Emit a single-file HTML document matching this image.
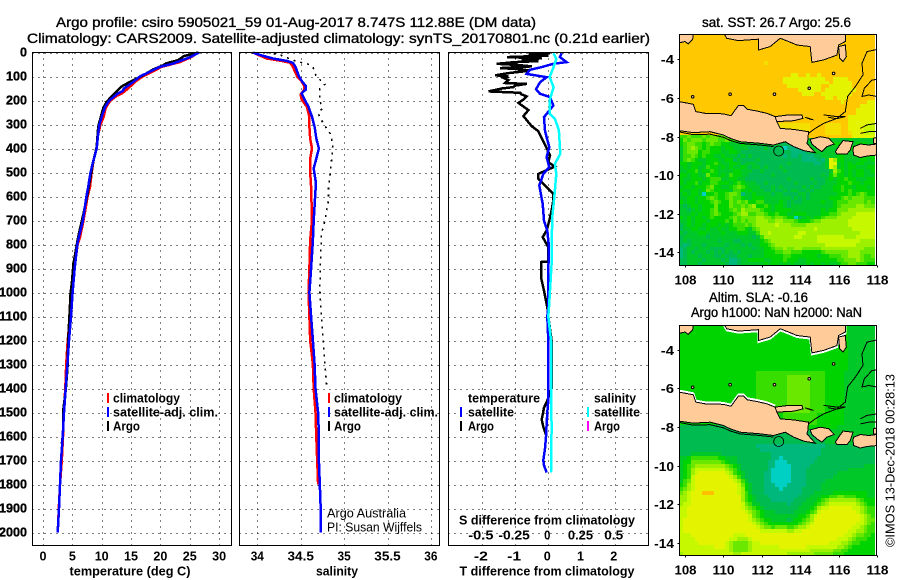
<!DOCTYPE html>
<html lang="en">
<head>
<meta charset="utf-8">
<title>Argo profile csiro 5905021_59</title>
<style>
html,body{margin:0;padding:0;background:#fff;}
svg{display:block;font-family:"Liberation Sans",sans-serif;}
</style>
</head>
<body>
<svg id="fig" xmlns="http://www.w3.org/2000/svg" width="900" height="580" viewBox="0 0 900 580">
  <defs>
    <clipPath id="clip-sst"><rect x="679.5" y="34.5" width="197" height="231"/></clipPath>
    <clipPath id="clip-sla"><rect x="679.5" y="325.5" width="197" height="230"/></clipPath>
  </defs>
  <rect width="900" height="580" fill="#fff"/>
  <g id="layer-sst" clip-path="url(#clip-sst)"></g>
  <g id="layer-sla" clip-path="url(#clip-sla)"></g>
  <g id="layer-main"></g>
</svg>
<script>
/* ---------- tick data ---------- */
const depthTicks = [0,100,200,300,400,500,600,700,800,900,1000,1100,1200,1300,1400,1500,1600,1700,1800,1900,2000];
const tempTicks = [0,5,10,15,20,25,30];
const salTicks = [34,34.5,35,35.5,36];
const salTickLabels = ['34','34.5','35','35.5','36'];
const diffTicks = [-2,-1,0,1,2];
const sDiffTickLabels = ['-0.5','-0.25','0','0.25','0.5'];
const lonTicks = [108,110,112,114,116,118];
const latTicks = [-4,-6,-8,-10,-12,-14];

/* ---------- temperature profiles [depth, value] ---------- */
const tempClim = [[0,26.5],[20,25.2],[40,23.3],[60,20.2],[80,18.6],[100,17],[120,15.8],[150,14.5],[170,13.5],[180,12.6],[200,11.5],[230,10.7],[270,10.3],[300,9.8],[340,9.4],[400,9.1],[450,8.6],[500,8.3],[560,8],[600,7.6],[700,6.9],[770,6.3],[800,5.9],[900,5.35],[1000,5],[1100,4.6],[1200,4.2],[1300,3.95],[1400,3.8],[1500,3.55],[1600,3.4],[1700,3.2],[1800,2.9],[1900,2.7],[2000,2.5]];
const tempSat = [[0,26.6],[20,25],[46,22.2],[60,19.9],[80,18.2],[100,16.5],[122,15.4],[150,13.8],[160,13.6],[170,12.8],[200,11.3],[226,10.6],[268,10],[300,9.6],[338,9.4],[400,9.15],[449,8.6],[500,8.1],[560,7.7],[600,7.4],[700,6.8],[770,6.1],[800,5.85],[900,5.4],[1000,5.05],[1100,4.77],[1200,4.43],[1300,4.15],[1400,3.86],[1500,3.58],[1600,3.35],[1700,3.07],[1800,2.9],[1900,2.73],[2000,2.5]];
const tempArgo = [[0,26.4],[15,24],[22,23.6],[32,23],[45,21],[53,20.5],[70,18.8],[94,17.1],[115,15.4],[140,13.5],[160,12.6],[185,11.6],[206,10.85],[230,10.3],[254,10],[310,9.4],[393,9.15],[462,8.5],[587,7.6],[671,6.9],[768,6],[879,5.2],[962,4.9],[1000,4.7],[1100,4.5],[1200,4.3],[1300,4.2],[1400,3.9],[1500,3.4],[1550,3.5],[1600,3.35],[1630,3.2]];

/* ---------- salinity profiles [depth, value] ---------- */
const salClim = [[0,33.95],[10,34.01],[25,34.11],[35,34.28],[43,34.38],[60,34.41],[100,34.46],[120,34.51],[140,34.54],[154,34.54],[175,34.5],[195,34.51],[226,34.57],[268,34.6],[310,34.6],[360,34.61],[400,34.63],[442,34.61],[500,34.61],[560,34.62],[700,34.63],[780,34.61],[900,34.6],[1000,34.59],[1100,34.6],[1200,34.61],[1300,34.64],[1400,34.65],[1500,34.67],[1600,34.68],[1700,34.69],[1800,34.7]];
const salSat = [[0,33.95],[10,34.03],[25,34.18],[35,34.34],[43,34.41],[60,34.44],[100,34.48],[122,34.52],[140,34.56],[154,34.56],[170,34.51],[200,34.55],[226,34.59],[268,34.63],[310,34.66],[358,34.68],[400,34.71],[442,34.68],[483,34.65],[532,34.67],[574,34.67],[700,34.65],[782,34.64],[900,34.62],[1000,34.6],[1100,34.62],[1200,34.64],[1300,34.66],[1400,34.67],[1500,34.7],[1600,34.71],[1700,34.71],[1800,34.72],[1900,34.73],[2000,34.73]];
const salArgo = [[0,34.11],[10,34.26],[39,34.47],[46,34.57],[60,34.64],[100,34.68],[132,34.78],[150,34.72],[200,34.72],[233,34.75],[254,34.7],[296,34.76],[338,34.84],[379,34.87],[435,34.86],[504,34.84],[560,34.82],[615,34.82],[700,34.78],[754,34.74],[838,34.73],[988,34.72],[1100,34.74],[1200,34.76],[1300,34.78],[1390,34.8]];

/* ---------- difference profiles [depth, value] ---------- */
const diffTempArgo = [[2,0.05],[8,-0.6],[13,0],[19,-1.25],[24,-0.2],[30,-0.8],[36,-0.3],[40,-1],[47,-1.55],[52,-0.9],[58,-0.5],[65,-1.45],[70,-0.8],[76,-0.55],[85,-1.15],[95,-1.6],[100,-1.2],[106,-1.35],[115,-1.2],[127,-1.3],[131,-0.65],[138,-1],[144,-1.05],[150,-1.4],[162,-1.8],[168,-0.85],[175,-0.8],[183,-0.65],[196,-0.75],[210,-0.9],[240,-0.6],[265,-0.75],[307,-0.5],[328,-0.3],[384,-0.1],[428,0.05],[457,0],[475,0.2],[506,-0.3],[526,-0.3],[547,-0.15],[589,0.15],[617,0.15],[658,0.1],[700,0.03],[742,-0.05],[769,-0.17],[811,0],[871,0],[873,-0.22],[936,-0.22],[992,-0.13],[1061,-0.03],[1100,0],[1200,0.1],[1400,0.1],[1450,-0.03],[1480,-0.13],[1530,-0.2],[1560,-0.15],[1600,-0.05]];
const diffTempSat = [[3,0.4],[19,0.35],[40,0.55],[47,0.15],[61,-0.2],[72,-0.55],[89,-0.65],[103,-0.05],[124,-0.25],[153,-0.37],[172,-0.25],[186,0.05],[221,0.15],[256,-0.05],[269,-0.13],[325,-0.1],[353,-0.05],[394,0.03],[436,-0.05],[478,0.03],[506,-0.15],[554,-0.27],[631,-0.17],[700,-0.13],[742,-0.03],[811,0.02],[908,0],[1061,0],[1100,-0.03],[1200,0],[1400,0],[1450,0],[1500,-0.03],[1550,-0.05],[1600,-0.07],[1650,-0.1],[1700,-0.15],[1720,-0.13],[1750,-0.05]];
const diffSalSat = [[3,0.04],[27,0.06],[61,0.04],[103,0.01],[144,0.04],[200,0.01],[256,0.01],[276,0.05],[325,0.08],[422,0.09],[464,0.05],[506,0.06],[603,0.045],[686,0.03],[811,0.025],[880,0.025],[1061,0.005],[1100,0],[1200,0.02],[1400,0.02],[1560,0.025],[1750,0.02]];

/* ---------- map heat grids: one letter per 0.2 degree cell ---------- */
const cellColors = {a:'#00d0c4',b:'#00b87c',c:'#00bc50',d:'#00c828',e:'#00d400',f:'#38de00',g:'#6ae800',h:'#9cf000',i:'#c6f800',j:'#e4f400',k:'#ffc000',l:'#f4e000',m:'#ffc800'};
const sstRows = [
"mmmmmmmmmm mmmmmmmmmm mmmmmmmmmm mmmmmmmmmm mmmmmmmmmm m",
"mmmmmmmmmm mmmmmmmmmm mmmmmmmmmm mmmmmmmmmm mmmmmmmmmm m",
"mmmmmmmmmm mmmmmmmmmm mmmmmmmmmm mmmmmmmmmm mmmmmmmmmm m",
"mmmmmmmmmm mmmmmmmmmm mmmmmmmmmm mmmmmmmmmm mmmmmmmmmm m",
"mmmmmmmmmm mmmmmmmmmm mmmmmmmmmm mmmmmmmmmm mmmmmmmmmm m",
"mmmmmmmmmm mmmmmmmmmm mmmmmmmmmm mmmmmmmmmm mmmmmmmmmm m",
"mmmmmmmmmm mmmmmmmmmm mmmmmmmmmm mmmmmmmmmm mmmmmmmmmm m",
"mmmmmmmmmm mmmmmmmmmm mmlmmmmmmm mmmmmmmmmm mmmmmmmmmm m",
"mmmmmmmmmm mmmmmmmmmm mmmmmmmmmm mmmmmmmmmm mmmmmmmmmm m",
"mmmmmmmmmm mmmmmmmmmm mmmmmmmmmm mmmmmmmmmm mmmmmmmmmm m",
"mmmmmmmmmm mmmmmmmmmm mmmmmmmmmj jmmjmmjmmm mmmmmmmmmm m",
"mmmmmmmmmm mmmmmmmmmm mmmmmmmjjj jjjjjjjjmm jjjjmmmmmm m",
"mmmmmmmmmm mmmmmmmmmm mmmmmmmjjj jjjjjjjjjm jjjjjmmmmm m",
"mmmmmmmmmm mmmmmmmmmm mmmmmmmmjj jjjjjjjmmj jjjjjmmmmm m",
"mmmmmmmmmm mmmmmmmmmm mmmmmmmmmm mjjjjjjmjj jjjjjjmmmm m",
"mmmmmmmmmm mmmmmmmmmm mmmmmmmmmm mmjjjmmjjj jjjjjmmmmm m",
"mmmmmmmmmm mmmmmmmmmm mmmmmmmmmm mmmmmmmmjj mjjjmmmmmm m",
"mmmmmmmmmm mmmmmmmmmm mmmmmmmmmm mmmmmmmmmm mmjmmmmmmj j",
"mmmmmmmmmm mmmmmmmmmm mmmmmmmmmm mmmmmmmmmm mmmmmmmjjj j",
"mmmmmmmmmm mmmmmmmmmm mmmmmmmmmm mmmmmmmmmm mmmmmmjjjj j",
"mmmmmmmmmm mmmmmmmmmm mmmmmmmmmm mmmmmmmmmm mmmmmmjjjj j",
"mmmmmmmmmm mmmmmmmmmm mmmmmmmmmm mmmmmmmmmm mmmmjjjjjj j",
"mmmmmmmmmm mmmmmmmmmm mmmmmmmmmm mmmmmmmmmm mmmmjjjjjj j",
"mmmmmmmmmm mmmmmmmmmm mmmmmmllll llllmmmmll llmmjjjjji i",
"mmmmmmmmmm mmmmmmmmmm mmmmmmllll llllmmmmll llmmjjjjii i",
"mmmmmmmmmm mmmmmmmmmm mmmmmmmmmm mmmmmmmmll llmmljjjii i",
"ffgfffgfgg fgffeeefff mmmmmmmmmm mmmmmmmmmm mmmmmjjjjj j",
"egfgggfggg ffgffeeddd ddddddddcc cdcdddeeed ddddeddddd d",
"efggffefgf feedddeddd ddddddcccc bbcdddeedd eeedddeeed d",
"dfghgfefee edeeddddcc ccdccccabb bbccdddddd dddeeeddde e",
"dfgggeffee eddeedcccc cccccccccb bbbccddddd deeeddddee d",
"dffgfefeed dedddcdcdc cccccccbcb bcbbbccddd deedddedde e",
"dfgfeddeee ddeecdcccc dccccccccc ccbbbbcbdj heeddddeed e",
"eedeeedeef eddeedcddd ccccccccdc cccccbbcdj jdededeedd d",
"dedeeddfee dededdedcd dcdcccdccc ccccccccdj hdedeeddde e",
"ddeefdeefe ddddeedddc cdcccccdcc cccccccccd hfededeedd e",
"eedeeddgee dedfeeddcc ccccdccccc cccccccdce geededeedd d",
"eddeeedeff fddeeddccc ccccccccdc ccccdcccde deefeeddde e",
"edeefdeeff eeedefeddd ccdccccccc dccccdccdd deeefeedee e",
"deedeeefge eddefgfedd dcccdcdccc ccdcdccddd eefeedeeed e",
"eddeedegfe eeedffeded ddccdccdcd dccdcddddd eefefeeeee e",
"dedeedaeef eefggfbdde ddddcddccc cddcdddddd deeefefgfe e",
"ddeedeefgf eefgffedde eedddddddc dcdcddddde eefgfgggff f",
"edeedeeefg feegfgfgee ffddddedcd ccdddddedd efffggggfg f",
"dcdeedeeeg eeegffgfgh eefedeedcd dddddddddd efgggghhgg g",
"ddcdedeefg eeefgfhggg gfeedeeeed dddddddede eggghhhhhh h",
"dddedeeefg feeefghhff ggfeefeedd eeeddddeef fghhhhiiii i",
"ededeedefe eeefgfgggg hhggfggfee acdedeefgg ghhhhiiiii i",
"ddedeeedee eefegfgfgg hhhgghhggg feeefgghhh hhhhiiiiii i",
"cdedeedeee dedefffgfg hhhhhihhhg ggghhhhhhh hhhhiiiiii i",
"cddeeddedd eddeeffedf ghhhhhhhhh hhhhhihhhh hhhhhiiiii i",
"dcdddeeddd dedddeeedd fhhihhhhhh hiihhhhhhh hhhhhhhiii i",
"cddddddcdd dddddddddc dfhhhhhhhh iihhhhiiii iiihhhiiii i",
"cdcddddddd cdddccdddd defghhhhhh hhhhhhiiii iiiiiiihhh h",
"cbcdddcddd ddcdddcdcd deefghhhhh hhhhhhhhii iiiiiihhhh h",
"bcddcdddcc ccdddddddc ddeefgghgg hhggggghhh hhhhhhhhgg g",
"bcdcdddcdc dcdcdcdddd ddeeeffggf ffeeeeefgg gggghhhggg g",
"bcdddcdddc cdcccdddcd ddeeeeeffe eeeeeedeef ffgghhhgff g",
"ccddddcddd dcdbbcddee eeddeeefee eddeeeeeee effggghgff f",
"ccdddcdddd ddcbbcdddd ddedeedede dddedeeded deffggfffe e"
];
const slaRows = [
"eeeeeeeeee eeeeeeeeee eeeeeeeeee eeeeeeeeee eeeedddddd d",
"eeeeeeeeee eeeeeeeeee eeeeeeeeee eeeeeeeeee eeeedddddd d",
"eeeeeeeeee eeeeeeeeee eeeeeeeeee eeeeeeeeee eeeedddddd d",
"eeeeeeeeee eeeeeeeeee eeeeeeeeee eeeeeeeeee eeeedddddd d",
"eeeeeeeeee eeeeeeeeee eeeeeeeeee eeeeeeeeee eeeedddddd d",
"eeeeeeeeee eeeeeeeeee eeeeeeeeee eeeeeeeeee eeeedddddd d",
"eeeeeeeeee eeeeeeeeee eeeeeeeeee eeeeeeeeee eeeedddddd d",
"eeeeeeeeee eeeeeeeeee eeeeeeeeee eeeeeeeeee eeeedddddd d",
"eeeeeeeeee eeeeeeeeee eeeeeeeeee eeeeeeeeee eeeedddddd d",
"eeeeeeeeee eeeeeeeeee eeeeeeeeee eeeeeeeeee eeeedddddd d",
"eeeeeeeeee eeeeeeeeee eeeeeeeeee eeeeeeeeee eeeedddddd d",
"eeeeeeeeee eeeeeeeeee eeeeeeeeee eeeeeeeeee eeeedddddd d",
"eeeeeeeeee eeeeeeeeee ffffffffff ffffffffee eeeddddddd d",
"eeeeeeeeee eeeeeeeeee ffffffffgg ggggffffee eeeddddddd d",
"eeeeeeeeee eeeeeeeeee ffffffffgg ggggffffee eeeddddddd d",
"eeeeeeeeee eeeeeeeeee ffffffffgg ggggffffee eeeddddddd d",
"eeeeeeeeee eeeeeeeeee ffffffffgg ggggffffee eeeddddddd d",
"eeeeeeeeee eeeeeeeeee ffffffffgg ggggffffee eeeddddddd d",
"eeeeeeeeee eeeeeeeeee ffffffffgg ggggffffee eeeddddddd d",
"eeeeeeeeee eeeeeeeeee ffffffffgg ggggffffee eeeddddddd d",
"eeeeeeeeee eeeeeeeeee ffffffffgg ggggffffee eeeddddddd d",
"eeeeeeeeee eeeeeeeeee ffffffffgg ggggffffee eeeddddddd d",
"eeeeeeeeee eeeeeeeeee ffffffffgg ggggffffee eeeddddddd d",
"eeeeeeeeee eeeeeeeeee eeeeeeefff ffffffeeee eeeddddddd d",
"eeeeeeeeee eeeeeeeeee eeeeeeefff ffffffeeee eeeddddddd d",
"eeeeeeeeee eeeeeeeeee eeeeeeefff ffffffeeee eeeddddddd d",
"cccccccccc cccccccccc ceeeeeeeee eeeeeeeeee eddddddddd d",
"cccccccccc cccccccccc cccccccccc ccccccccdd dddddddddd d",
"cccccccccc cccccccccc cccccccccc ccccccccdd dddddddddd d",
"cccccccccc cccccccccc cccccccccc ccccccccdd dddddddddd d",
"cccccccccc cccccccccc cccccccccc ccccccccdd dddddddddd d",
"cccccccccc cccccccccc bbbbbbbbbb bbbbbbbbcc cccccccccc c",
"cccccccccc cccccccccc cbbbbbbbbb bbbbbbbccc cccccccccc c",
"cccddddddd dccccccccc ccccbbbbbb bbbbbbbccc cccccccccc c",
"ddefffffff eedddccccc ccccbbabbb bbbbbbcccc cccccccccc c",
"deeggggggg gfeddccccc cccbbaaabb bbbbbccccc cccccccccc c",
"defghhhhhh hhgfedcccc cccbbaaaab bbbbcccccc ccccccccdd d",
"defhiiiiii iihgfdcccc cccbaaaaab bbbccccccc ccccdddddd d",
"defhijjjjj jjihfedccc ccbbaaaaab bbbccccccc cddddddddd d",
"defijjjjjj jjjihfdccc ccbbaaaaab bbbccccccc dddddddddd d",
"dfgijjjjjj jjjjihfdcc ccbbaaaaab bbbcccccdd dddddddddd d",
"efhijjjjjj jjjjjigedc ccbbbaaabb bbbccccddd dddddddddd d",
"fghijjjjjj jjjjjihedc ccbbbbabbb bbcccccddd dddddddddd d",
"ghijjjkkkj jjjjjihfdc ccbbbbbbbb bbcccddddd eeeeeeeeed d",
"hhijjjjjjj jjjjjjhfed cccbbbbbbb bcccdddeef fggfffeeed d",
"hhijjjjjjj jjjjjjhfed ccccbbbbbb cccdddefgh hhhhhhgfee e",
"hiijjjjjjj jjjjjjigfd dcccccccbc ccdddefghi iiiiiihgfe e",
"iijjjjjjjj jjjjjjihgf edcccccccc cdddefhiij jjjjjiihgf f",
"iijjjjjjjj jjjjjjjihg fedddccccc dddefgijjj jjjjjjihgf f",
"iijjjjjjjj jjjjjjjjig fedddddddd deefhijjjj jjjjjjjihg f",
"ijjjjjjjjj jjjjjjjjih gfeeddddcd eefghjjjjj jjjjjjjihg g",
"ijjjjjjjjj jjjjjjjjji hgfeeeeeee efghijjjjj jjjjjjiihg f",
"ijjjjjjjjj jjjjjjjjjj ihggfgggff ghhijjjjjj jjjjjiihgf f",
"ijjjjjjjjj jjjjjjjjjj jiiiiiiihh iijjjjjjjj jjjjiihhgf f",
"iiijjjjjjj jjjjiiijjj jjjjjjjjjj jjjjjjjjjj jjjiihggff e",
"iiiijjjjjj jjjiihhhij jjjjjjjjjj jjjjjjjjjj jiiihgfffe e",
"iiiiijjjjj jjihgggghi ijjjjjjjjj jjjjjjjjji iihhgffeee e",
"iiiiiiiiij jjihgggghi iiiiiijjjj jjjiiiiiii ihhgfeeeee e",
"iiiiiiiiii iiihgggghi iiiiiiiiii iiiihhhhhh ggffeeeeee e",
"hiiiiiiiii iiiihhiiii iiiiiiiihh hhhhhggggg fffeeeeeee e"
];

/* ---------- geography, [lon, lat] ---------- */
const landJava = [[107.7,-6.19],[108.43,-6.33],[108.56,-6.71],[109.04,-6.8],[109.48,-6.8],[110,-6.83],[110.4,-6.92],[110.61,-6.63],[110.78,-6.4],[111.04,-6.4],[111.25,-6.59],[111.74,-6.68],[112.26,-6.8],[112.7,-6.97],[112.78,-7.23],[112.96,-7.58],[113.65,-7.63],[114.43,-7.75],[114.4,-8.18],[114.35,-8.35],[114.78,-8.84],[114.17,-8.73],[113.65,-8.52],[113.22,-8.27],[112.61,-8.44],[111.91,-8.35],[110.87,-8.27],[110.35,-8.09],[110,-7.92],[109.3,-7.75],[108.43,-7.8],[107.7,-7.7]];
const javaNorthShore = [[107.7,-6.19],[108.43,-6.33],[108.56,-6.71],[109.04,-6.8],[109.48,-6.8],[110,-6.83],[110.4,-6.92],[110.61,-6.63],[110.78,-6.4],[111.04,-6.4],[111.25,-6.59],[111.74,-6.68],[112.26,-6.8],[112.7,-6.97]];
const landMadura = [[112.7,-6.97],[113.39,-6.88],[114.09,-6.88],[114.14,-7.06],[113.65,-7.18],[112.78,-7.23]];
const landBali = [[114.52,-8.15],[115.04,-8.01],[115.48,-8.09],[115.77,-8.39],[115.39,-8.53],[115.13,-8.78],[114.87,-8.61],[114.61,-8.39]];
const landLombok = [[115.83,-8.78],[116,-8.53],[116.23,-8.21],[116.75,-8.27],[116.61,-8.7],[116.43,-8.91],[115.91,-8.91]];
const landSumbawa = [[116.75,-8.7],[116.78,-8.53],[117.13,-8.39],[117.57,-8.44],[118,-8.39],[118.03,-8.96],[117.48,-9.01],[117.13,-9.09],[116.78,-8.96]];
const landSumbawaNorth = [[117.83,-8.09],[118.03,-8.04],[118.03,-8.39],[117.83,-8.35]];
const landBorneoWest = [[107.6,-2.6],[108.43,-2.6],[108.4,-2.96],[108.17,-3.2],[108,-3.08],[107.6,-3.17]];
const landBorneo = [[110,-2.6],[110.17,-2.91],[110.78,-3.03],[111.83,-2.96],[111.83,-3.52],[112.43,-3.34],[112.96,-2.91],[113.39,-3.08],[113.83,-3.26],[114.52,-3.34],[114.61,-4.16],[115.22,-4.03],[115.91,-3.78],[116,-3.26],[116.35,-3.08],[116.35,-2.6]];
const landIslet = [[116,-3.34],[116.35,-3.26],[116.4,-3.86],[116.23,-4.12],[116.05,-3.95]];
const lineEast = [[118.03,-3.48],[117.48,-3.6],[117.22,-4.21],[117.27,-4.81],[116.87,-5.42],[116.47,-5.93],[116.35,-6.71],[115.91,-7.06],[115.22,-7.32],[114.78,-7.58],[114.43,-7.84]];
const lineNorthEast = [[118.03,-5.04],[117.74,-5.07],[117.34,-5.5],[117.22,-5.93],[117.57,-5.85],[118,-5.93]];
const lineKangean = [[117.13,-7.58],[117.48,-7.4],[118,-7.32],[118,-7.75],[117.57,-7.75],[117.13,-7.84]];
const lineStrait = [[115.22,-6.88],[115.55,-6.92],[115.91,-6.97],[116.35,-6.97],[115.9,-7.08],[115.45,-7]];
const lineSmall = [[114.26,-7],[114.5,-7.1],[114.7,-7.14],[114.4,-7.04]];
const lineShelf = [[107.7,-7.76],[108.4,-7.9],[109.3,-7.88],[110,-8.04],[110.35,-8.2],[110.87,-8.36],[111.9,-8.44],[112.6,-8.52]];
const islets = [[110.35,-5.81],[112.66,-5.81],[108.4,-5.94],[114.47,-5.5],[115.74,-4.73]];
const argoPosition = [112.88,-8.75];

/* ---------- axis functions ---------- */
const yDepth = d => 52.5 + 0.24 * d;
const xTemp = t => 43 + 5.87 * t;
const xSal = s => 257.3 + 86.8 * (s - 34);
const xDiffT = v => 548.3 + 33.2 * v;
const xDiffS = v => 548.3 + 132.8 * v;
const xLon = lon => 685 + 19.2 * (lon - 108);
const ySst = lat => 59.3 + 19.3 * (-4 - lat);
const ySla = lat => 349.8 + 19.3 * (-4 - lat);

const NS = 'http://www.w3.org/2000/svg';
function make(tag, parent, props) {
  const el = document.createElementNS(NS, tag);
  for (const k in props) el.setAttribute(k, props[k]);
  parent.appendChild(el);
  return el;
}
function label(parent, name, str, x, cy, size, weight, anchor, len) {
  const t = make('text', parent, {x:x, y:cy + size * 0.36, 'font-size':size, 'font-weight':weight, 'text-anchor':anchor, fill:'#000'});
  
  
  if (len) { t.setAttribute('textLength', len); t.setAttribute('lengthAdjust', 'spacingAndGlyphs'); }
  t.textContent = str;
  return t;
}
function heavy(t) {
  t.setAttribute('stroke', '#000');
  t.setAttribute('stroke-width', '0.35');
  return t;
}
function trace(parent, name, pts, fx, fy, color, width, dash) {
  const p = make('polyline', parent, {
    points: pts.map(q => fx(q[1]).toFixed(1) + ',' + fy(q[0]).toFixed(1)).join(' '),
    fill:'none', stroke:color, 'stroke-width':width, 'shape-rendering':'crispEdges'
  });
  if (dash) p.setAttribute('stroke-dasharray', dash);
  
  
  return p;
}
function path(parent, name, pts, fy, fill, color, width) {
  const d = 'M' + pts.map(q => xLon(q[0]).toFixed(1) + ' ' + fy(q[1]).toFixed(1)).join('L') + (fill !== 'none' ? 'Z' : '');
  const p = make('path', parent, {d:d, fill:fill, stroke:color, 'stroke-width':width || 1, 'shape-rendering':'crispEdges'});
  
  
  return p;
}
function legendBar(parent, name, x, y, color) {
  const r = make('rect', parent, {x:x, y:y - 5, width:2, height:10, fill:color});
  
  
}

/* ---------- profile panels ---------- */
const main = document.getElementById('layer-main');
const P_TOP = 52.5, P_BOT = 545.5;
const LINE_W = 2.5;
function panel(name, left, right, xs) {
  const g = make('g', main, {});
  
  
  depthTicks.forEach(d => {
    const y = Math.round(yDepth(d)) + 0.5;
    const l = make('line', g, {x1:left, x2:right, y1:y, y2:y, stroke:'#000', 'stroke-dasharray':'1 5', 'shape-rendering':'crispEdges'});
    
    
  });
  xs.forEach(x => {
    const xp = Math.round(x) + 0.5;
    const l = make('line', g, {x1:xp, x2:xp, y1:P_TOP, y2:P_BOT, stroke:'#000', 'stroke-dasharray':'1 5', 'shape-rendering':'crispEdges'});
    
    
  });
  return g;
}
function frame(g, left, right) {
  const r = make('rect', g, {x:left, y:P_TOP, width:right - left, height:P_BOT - P_TOP, fill:'none', stroke:'#000', 'stroke-width':1, 'shape-rendering':'crispEdges'});
  
  
}

const g1 = panel('temperature-panel', 32.5, 231.5, tempTicks.map(xTemp));
trace(g1, 'temperature-climatology-line', tempClim, xTemp, yDepth, '#ff0000', LINE_W);
trace(g1, 'temperature-argo-line', tempArgo, xTemp, yDepth, '#000000', LINE_W);
trace(g1, 'temperature-satellite-line', tempSat, xTemp, yDepth, '#0000ff', LINE_W);
frame(g1, 32.5, 231.5);
depthTicks.forEach(d => heavy(label(main, 'depth-tick-label', String(d), 27, yDepth(d) - 0.5, 13, 'bold', 'end', String(d).length * 7)));
tempTicks.forEach(t => label(main, 'temperature-tick-label', String(t), xTemp(t), 556, 13, 'bold', 'middle', String(t).length * 7));
label(main, 'temperature-axis-title', 'temperature (deg C)', 130, 571, 13, 'bold', 'middle', 121);
legendBar(g1, 'legend-climatology-swatch', 107, 398, '#ff0000');
legendBar(g1, 'legend-satellite-swatch', 107, 412, '#0000ff');
legendBar(g1, 'legend-argo-swatch', 107, 426, '#000000');
label(main, 'legend-climatology', 'climatology', 113, 398, 13, 'bold', 'start', 67);
label(main, 'legend-satellite', 'satellite-adj. clim.', 113, 412, 13, 'bold', 'start', 105);
label(main, 'legend-argo', 'Argo', 113, 426, 13, 'bold', 'start', 27);

const g2 = panel('salinity-panel', 239.5, 439.5, salTicks.map(xSal));
trace(g2, 'salinity-climatology-line', salClim, xSal, yDepth, '#ff0000', LINE_W);
trace(g2, 'salinity-argo-dotted-line', salArgo, xSal, yDepth, '#000000', 1.6, '2 5');
trace(g2, 'salinity-satellite-line', salSat, xSal, yDepth, '#0000ff', LINE_W);
frame(g2, 239.5, 439.5);
salTicks.forEach((s, i) => label(main, 'salinity-tick-label', salTickLabels[i], xSal(s), 556, 13, 'bold', 'middle', salTickLabels[i].length * 6.6));
label(main, 'salinity-axis-title', 'salinity', 337, 571, 13, 'bold', 'middle', 42);
legendBar(g2, 'legend-climatology-swatch', 328, 398, '#ff0000');
legendBar(g2, 'legend-satellite-swatch', 328, 412, '#0000ff');
legendBar(g2, 'legend-argo-swatch', 328, 426, '#000000');
label(main, 'legend-climatology', 'climatology', 334, 398, 13, 'bold', 'start', 68);
label(main, 'legend-satellite', 'satellite-adj. clim.', 334, 412, 13, 'bold', 'start', 104);
label(main, 'legend-argo', 'Argo', 334, 426, 13, 'bold', 'start', 27);
label(main, 'credit-argo-australia', 'Argo Australia', 327, 513, 13, 'normal', 'start', 79);
label(main, 'credit-pi', 'PI: Susan Wijffels', 327, 527, 13, 'normal', 'start', 95);

const g3 = panel('difference-panel', 448.5, 648.5, diffTicks.map(xDiffT));
trace(g3, 'temperature-diff-argo-line', diffTempArgo, xDiffT, yDepth, '#000000', LINE_W);
trace(g3, 'temperature-diff-satellite-line', diffTempSat, xDiffT, yDepth, '#0000ff', LINE_W);
trace(g3, 'salinity-diff-satellite-line', diffSalSat, xDiffS, yDepth, '#00ffff', LINE_W);
frame(g3, 448.5, 648.5);
diffTicks.forEach(v => label(main, 'temperature-diff-tick-label', String(v), xDiffT(v) - 1, 556, 13, 'bold', 'middle', String(v).length * 7));
diffTicks.forEach((v, i) => label(main, 'salinity-diff-tick-label', sDiffTickLabels[i], xDiffT(v) - 1, 535, 13, 'bold', 'middle', sDiffTickLabels[i].length * 6.3));
label(main, 'salinity-diff-axis-title', 'S difference from climatology', 547, 520, 13, 'bold', 'middle', 176);
label(main, 'temperature-diff-axis-title', 'T difference from climatology', 547, 571, 13, 'bold', 'middle', 175);
label(main, 'legend-temperature-heading', 'temperature', 468, 398, 13, 'bold', 'start', 72);
label(main, 'legend-temperature-satellite', 'satellite', 468, 412, 13, 'bold', 'start', 46);
label(main, 'legend-temperature-argo', 'Argo', 468, 426, 13, 'bold', 'start', 26);
label(main, 'legend-salinity-heading', 'salinity', 594, 398, 13, 'bold', 'start', 42);
label(main, 'legend-salinity-satellite', 'satellite', 594, 412, 13, 'bold', 'start', 46);
label(main, 'legend-salinity-argo', 'Argo', 594, 426, 13, 'bold', 'start', 26);
legendBar(g3, 'legend-t-satellite-swatch', 460, 412, '#0000ff');
legendBar(g3, 'legend-t-argo-swatch', 460, 426, '#000000');
legendBar(g3, 'legend-s-satellite-swatch', 587, 412, '#00ffff');
legendBar(g3, 'legend-s-argo-swatch', 587, 426, '#ff00ff');

heavy(label(main, 'chart-title-line-1', 'Argo profile: csiro 5905021_59 01-Aug-2017 8.747S 112.88E (DM data)', 56, 22, 14, 'normal', 'start', 480));
heavy(label(main, 'chart-title-line-2', 'Climatology: CARS2009. Satellite-adjusted climatology: synTS_20170801.nc (0.21d earlier)', 27, 38, 14, 'normal', 'start', 623));

/* ---------- maps ---------- */
function drawMap(layerId, rows, fy, top, bottom, whiteEdges) {
  const layer = document.getElementById(layerId);
  rows.forEach((row, r) => {
    row.replace(/ /g, '').split('').forEach((ch, c) => {
      const lon = 107.7 + 0.2 * c;
      const lat = -2.7 - 0.2 * r;
      const x0 = Math.round(xLon(lon));
      const x1 = Math.round(xLon(lon + 0.2));
      const y0 = Math.round(fy(lat));
      const y1 = Math.round(fy(lat - 0.2));
      const cell = make('rect', layer, {x:x0, y:y0, width:x1 - x0, height:y1 - y0, fill:cellColors[ch], 'shape-rendering':'crispEdges'});
      
      
    });
  });
  const peach = '#ffcc99';
  if (whiteEdges) {
    path(layer, 'data-gap-borneo', landBorneo, lat => fy(lat) + 1.5, 'none', '#fff', 2);
    path(layer, 'data-gap-java', javaNorthShore, lat => fy(lat) - 1.5, 'none', '#fff', 2);
  }
  path(layer, 'land-borneo-west', landBorneoWest, fy, peach, '#000');
  path(layer, 'land-borneo', landBorneo, fy, peach, '#000');
  path(layer, 'land-islet', landIslet, fy, peach, '#000');
  path(layer, 'land-java', landJava, fy, peach, '#000');
  path(layer, 'land-madura', landMadura, fy, peach, '#000');
  path(layer, 'land-bali', landBali, fy, peach, '#000');
  path(layer, 'land-lombok', landLombok, fy, peach, '#000');
  path(layer, 'land-sumbawa', landSumbawa, fy, peach, '#000');
  path(layer, 'land-sumbawa-north', landSumbawaNorth, fy, peach, '#000');
  path(layer, 'coast-east', lineEast, fy, 'none', '#000');
  path(layer, 'coast-north-east', lineNorthEast, fy, 'none', '#000');
  path(layer, 'coast-kangean', lineKangean, fy, 'none', '#000');
  path(layer, 'coast-strait', lineStrait, fy, 'none', '#000');
  path(layer, 'coast-small', lineSmall, fy, 'none', '#000');
  path(layer, 'coast-shelf', lineShelf, fy, 'none', '#000');
  islets.forEach(q => {
    const e = make('circle', layer, {cx:xLon(q[0]), cy:fy(q[1]), r:1.3, fill:peach, stroke:'#000', 'stroke-width':1});
    
    
  });
  const ring = make('circle', layer, {cx:xLon(argoPosition[0]), cy:fy(argoPosition[1]), r:5, fill:'none', stroke:'#000', 'stroke-width':0.8});
  
  

  const frameEl = make('rect', main, {x:679.5, y:top, width:197, height:bottom - top, fill:'none', stroke:'#000', 'shape-rendering':'crispEdges'});
  
  
  lonTicks.forEach(lon => {
    const x = Math.round(xLon(lon)) + 0.5;
    const t = make('line', main, {x1:x, x2:x, y1:bottom, y2:bottom + 2, stroke:'#000', 'shape-rendering':'crispEdges'});
    
    
    label(main, 'map-lon-tick-label', String(lon), x, bottom + 14.5, 13, 'bold', 'middle', 22);
  });
  latTicks.forEach(lat => {
    const y = Math.round(fy(lat)) + 0.5;
    const t = make('line', main, {x1:677.5, x2:679.5, y1:y, y2:y, stroke:'#000', 'shape-rendering':'crispEdges'});
    
    
    label(main, 'map-lat-tick-label', String(lat), 674, y, 13, 'bold', 'end', String(lat).length * 6.6);
  });
}
drawMap('layer-sst', sstRows, ySst, 34.5, 265.5, false);
drawMap('layer-sla', slaRows, ySla, 325.5, 555.5, true);

heavy(label(main, 'sst-map-title', 'sat. SST: 26.7 Argo: 25.6', 702, 22, 14, 'normal', 'start', 149));
heavy(label(main, 'sla-map-title-line-1', 'Altim. SLA: -0.16', 709, 297, 14, 'normal', 'start', 99));
heavy(label(main, 'sla-map-title-line-2', 'Argo h1000: NaN h2000: NaN', 691, 312, 14, 'normal', 'start', 171));
const stamp = label(main, 'imos-timestamp', '\u00A9IMOS 13-Dec-2018 00:28:13', 0, 0, 13, 'normal', 'middle', 173);
stamp.setAttribute('transform', 'translate(890 460.5) rotate(-90)');
</script>
</body>
</html>
